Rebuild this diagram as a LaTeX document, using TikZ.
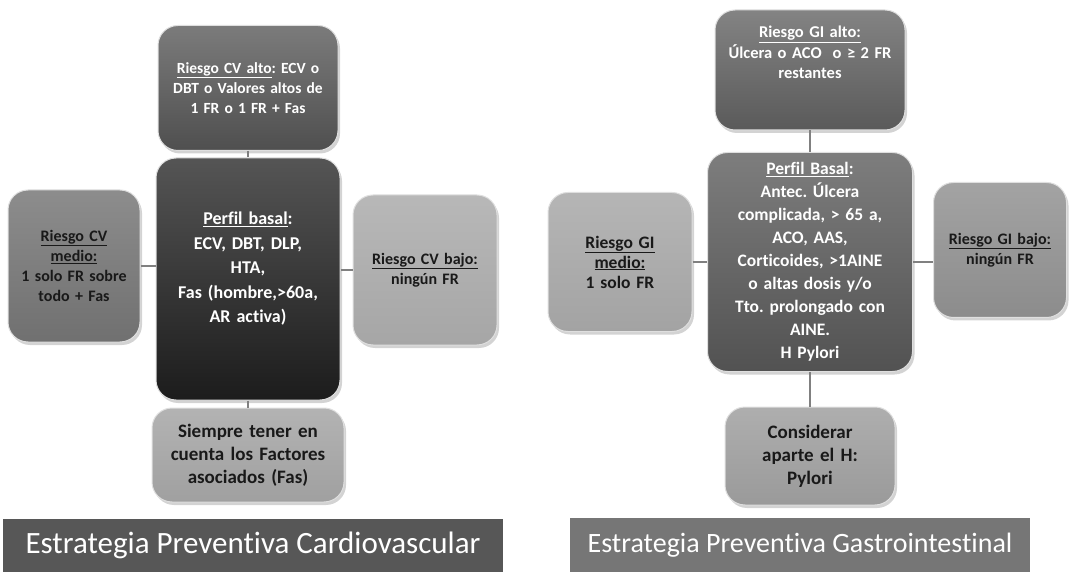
\documentclass[tikz,border=0pt]{standalone}
\usepackage{fontspec}
\setmainfont{Carlito}[Ligatures=NoCommon]
\usetikzlibrary{shadows}
\definecolor{cvalto}{HTML}{4F4F4F}
\definecolor{cvbasal}{HTML}{1C1C1C}
\definecolor{cvmedio}{HTML}{707070}
\definecolor{cvbajo}{HTML}{A6A6A6}
\definecolor{cvfas}{HTML}{A0A0A0}
\definecolor{gialto}{HTML}{5A5A5A}
\definecolor{gibasal}{HTML}{525252}
\definecolor{gimedio}{HTML}{A3A3A3}
\definecolor{gibajo}{HTML}{8C8C8C}
\definecolor{gipylori}{HTML}{9A9A9A}
\definecolor{barracv}{HTML}{575757}
\definecolor{barragi}{HTML}{767676}
\frenchspacing

\begin{document}
\begin{tikzpicture}[x=1pt,y=-1pt,
	caja/.style={rounded corners=20pt, draw=white!75!gray, line width=1pt, align=center, inner sep=2pt,
		font=\bfseries\fontsize{16}{20}\selectfont,
		drop shadow={shadow xshift=2pt, shadow yshift=-3pt, opacity=0.35}},
	oscura/.style={caja, top color=#1!75!white, bottom color=#1, text=white},
	clara/.style={caja, top color=#1!80!white, bottom color=#1, text=black!90},
	linea/.style={draw=gray, line width=2pt},
	barra/.style={fill=#1, text=white, inner sep=0pt}
]
	\useasboundingbox (0,0) rectangle (1069,572);

	\node[oscura=cvalto, minimum width=180pt, minimum height=125pt, text width=165pt, font=\bfseries\fontsize{15.5}{20}\selectfont] (cvalto) at (248,88) {\underline{Riesgo CV alto}: ECV o\\ DBT o Valores altos de\\ 1 FR o 1 FR + Fas};
	\node[oscura=cvbasal, minimum width=184pt, minimum height=242pt, text width=170pt, font=\bfseries\fontsize{18}{24.5}\selectfont] (cvbasal) at (248,279) {\underline{Perfil basal}:\\ ECV, DBT, DLP,\\ HTA,\\ Fas (hombre,>60a,\\ AR activa)\\[-1.5pt]\mbox{}};
	\node[clara=cvmedio, minimum width=132pt, minimum height=152pt, text width=125pt] (cvmedio) at (74,266) {\underline{Riesgo CV}\\ \underline{medio:}\\ 1 solo FR sobre\\ todo + Fas};
	\node[clara=cvbajo, minimum width=144pt, minimum height=150pt, text width=135pt] (cvbajo) at (425,270) {\underline{Riesgo CV bajo:}\\ ningún FR};
	\node[clara=cvfas, minimum width=192pt, minimum height=94pt, text width=182pt, font=\bfseries\fontsize{19}{23}\selectfont] (cvfas) at (248,455) {Siempre tener en\\ cuenta los Factores\\ asociados (Fas)};

	\draw[linea] (cvalto) -- (cvbasal);
	\draw[linea] (cvbasal) -- (cvfas);
	\draw[linea] (cvmedio.east) -- (cvmedio.east -| cvbasal.west);
	\draw[linea] (cvbasal.east |- cvbajo.west) -- (cvbajo.west);

	\node[barra=barracv, minimum width=500pt, minimum height=53pt, font=\fontsize{31}{36}\selectfont] (tcv) at (253,545.5) {Estrategia Preventiva Cardiovascular};

	\node[oscura=gialto, minimum width=190pt, minimum height=120pt, text width=180pt, font=\bfseries\fontsize{16.5}{20.5}\selectfont] (gialto) at (810,70) {\underline{Riesgo GI alto:}\\ Úlcera o ACO \ o ≥ 2 FR\\ restantes\\[14.5pt]\mbox{}};
	\node[oscura=gibasal, minimum width=205pt, minimum height=219pt, text width=195pt, font=\bfseries\fontsize{17.5}{23}\selectfont] (gibasal) at (810,262) {\underline{Perfil Basal}:\\ Antec. Úlcera\\ complicada, > 65 a,\\ ACO, AAS,\\ Corticoides, >1AINE\\ o altas dosis y/o\\ Tto. prolongado con\\ AINE.\\ H Pylori};
	\node[clara=gimedio, minimum width=144pt, minimum height=139pt, text width=135pt, font=\bfseries\fontsize{17.5}{20}\selectfont] (gimedio) at (620,262) {\underline{Riesgo GI}\\ \underline{medio:}\\ 1 solo FR};
	\node[clara=gibajo, minimum width=133pt, minimum height=135pt, text width=128pt] (gibajo) at (1000,250) {\underline{Riesgo GI bajo:}\\ ningún FR};
	\node[clara=gipylori, minimum width=170pt, minimum height=98pt, text width=160pt, font=\bfseries\fontsize{19}{23}\selectfont] (gipylori) at (810,456) {Considerar\\ aparte el H:\\ Pylori};

	\draw[linea] (gialto) -- (gibasal);
	\draw[linea] (gibasal) -- (gipylori);
	\draw[linea] (gimedio.east) -- (gimedio.east -| gibasal.west);
	\draw[linea] (gibasal.east) -- (gibasal.east -| gibajo.west);

	\node[barra=barragi, minimum width=460pt, minimum height=54pt, font=\fontsize{28}{34}\selectfont] (tgi) at (800,545) {Estrategia Preventiva Gastrointestinal};
\end{tikzpicture}
\end{document}
